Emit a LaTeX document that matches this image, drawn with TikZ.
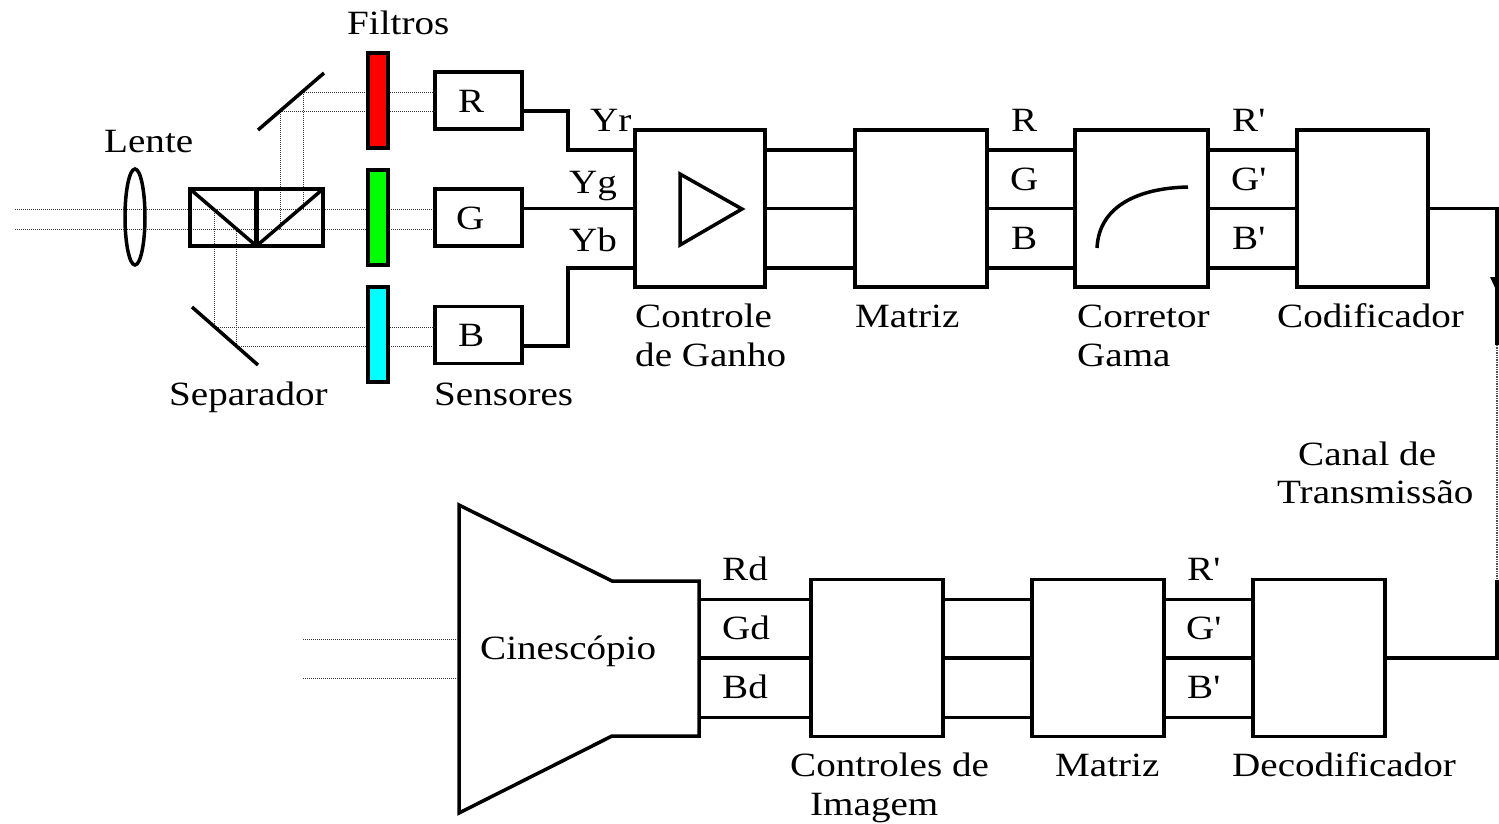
\documentclass[tikz,border=0pt]{standalone}
\usepackage{fontspec}
\usetikzlibrary{shapes.geometric}
\setmainfont[FakeStretch=1.15]{Liberation Serif}
\newfontfamily\primefont[FakeStretch=1.15]{Liberation Serif}
\newcommand{\pr}{{\primefont'}}
\definecolor{filtcyan}{RGB}{0,255,255}
\definecolor{filtgreen}{RGB}{0,255,0}
\definecolor{filtred}{RGB}{255,0,0}
\tikzset{
 blk/.style={draw=black,line width=3.5pt,fill=white,minimum width=#1,minimum height=157pt,inner sep=0pt,outer sep=0pt},
 sens/.style={draw=black,line width=3.5pt,fill=white,minimum width=87pt,minimum height=57pt,inner sep=0pt,outer sep=0pt},
 filt/.style={draw=black,line width=3.5pt,fill=#1,minimum width=20pt,minimum height=95pt,inner sep=0pt,outer sep=0pt},
 wire/.style={draw=black,line width=3.2pt},
 ray/.style={draw=black!80,line width=1pt,densely dotted},
 mir/.style={draw=black,line width=3.5pt},
 lab/.style={anchor=base west,inner sep=0pt,font=\fontsize{34}{38}\selectfont},
}
\begin{document}
\begin{tikzpicture}[x=1pt,y=-1pt]
\useasboundingbox (0,0) rectangle (1499,823);
% rays
\coordinate (rl1) at (15,209); \coordinate (rl2) at (15,229);
\coordinate (mt1) at (303,92); \coordinate (mt2) at (280,111);
\coordinate (mb1) at (214,327); \coordinate (mb2) at (236,346);
\node[sens] (sr) at (478.5,100.5) {};
\node[sens] (sg) at (478.5,217.5) {};
\node[sens] (sb) at (478.5,335) {};
\draw[ray] (rl1) -- (sg.west |- rl1);
\draw[ray] (rl2) -- (sg.west |- rl2);
\draw[ray] (303,209) -- (mt1) -- (sr.west |- mt1);
\draw[ray] (280,229) -- (mt2) -- (sr.west |- mt2);
\draw[ray] (214,209) -- (mb1) -- (sb.west |- mb1);
\draw[ray] (236,229) -- (mb2) -- (sb.west |- mb2);
% lens
\node[draw=black,line width=3.5pt,ellipse,minimum width=20pt,minimum height=96pt,inner sep=0pt] (lens) at (135,217) {};
% separator
\node[draw=black,line width=3.5pt,minimum width=133pt,minimum height=57pt,inner sep=0pt,outer sep=0pt] (sep) at (256.5,217.5) {};
\draw[line width=5pt] (sep.north) -- (sep.south);
\draw[mir] (sep.north west) -- (sep.south);
\draw[mir] (sep.south) -- (sep.north east);
\coordinate (m1a) at (258,130); \coordinate (m1b) at (324,73);
\coordinate (m2a) at (192,307); \coordinate (m2b) at (258,365);
\draw[mir] (m1a) -- (m1b);
\draw[mir] (m2a) -- (m2b);
% filters
\node[filt=filtred] (fr) at (378,100.5) {};
\node[filt=filtgreen] (fg) at (378,217.5) {};
\node[filt=filtcyan] (fb) at (378,334.5) {};
% top row
\node[blk=130pt] (gain) at (700,208.5) {};
\node[blk=132pt] (mat) at (921,208.5) {};
\node[blk=133pt] (gam) at (1141.5,208.5) {};
\node[blk=131pt] (cod) at (1362.5,208.5) {};
\draw[wire] (sr.east) ++(0,10.5) -- ++(46,0) |- ([yshift=58.5pt]gain.west);
\draw[wire] (sg.east |- gain.west) -- (gain.west);
\draw[wire] ([yshift=-11pt]sb.east) -- ++(46,0) |- ([yshift=-59.5pt]gain.west);
\foreach \a/\b in {gain/mat,mat/gam,gam/cod}{
 \draw[wire] ([yshift=58.5pt]\a.east) -- ([yshift=58.5pt]\b.west);
 \draw[wire] (\a.east) -- (\b.west);
 \draw[wire] ([yshift=-59.5pt]\a.east) -- ([yshift=-59.5pt]\b.west);
}
\draw[line width=3.5pt] (680,174) -- (680,245) -- (742,209) -- cycle;
\draw[line width=3.5pt] (1097,248) .. controls (1099,205) and (1140,188) .. (1188,187);
% bottom row
\node[blk=132pt] (dec) at (1319,658) {};
\node[blk=132pt] (mat2) at (1098,658) {};
\node[blk=132pt] (ctl) at (877,658) {};
\draw[line width=3.5pt,fill=white] (459,505) -- (612,581) -- (699,581) -- (699,736) -- (612,736) -- (459,813) -- cycle;
\coordinate (cine) at (699,658);
\coordinate (gun1) at (303,639); \coordinate (gun2) at (303,678);
\coordinate (cinb) at (459,639);
\draw[ray] (gun1) -- (cinb);
\draw[ray] (gun2) -- (cinb |- gun2);
\foreach \a/\b in {ctl/mat2,mat2/dec}{
 \draw[wire] ([yshift=58.5pt]\a.east) -- ([yshift=58.5pt]\b.west);
 \draw[wire] (\a.east) -- (\b.west);
 \draw[wire] ([yshift=-59.5pt]\a.east) -- ([yshift=-59.5pt]\b.west);
}
\draw[wire] ([yshift=58.5pt]cine) -- ([yshift=58.5pt]ctl.west);
\draw[wire] (cine) -- (ctl.west);
\draw[wire] ([yshift=-59.5pt]cine) -- ([yshift=-59.5pt]ctl.west);
% transmission channel
\coordinate (ch1) at (1497,208.5); \coordinate (ch2) at (1497,345);
\coordinate (ch3) at (1497,580); \coordinate (ch4) at (1497,658);
\draw[wire] (cod.east) -- (ch1) -- (ch2);
\fill (1490,277) -- (1498,277) -- (1498,294) -- cycle;
\draw[draw=black!70,line width=1.4pt,densely dotted] (ch2) -- (ch3);
\draw[wire] (ch3) -- (ch4) -- (dec.east);
% labels
\node[lab] (t1) at (347,34) {Filtros};
\node[lab] (t2) at (104,152) {Lente};
\node[lab] (t3) at (590,131) {Yr};
\node[lab] (t4) at (569,193) {Yg};
\node[lab] (t5) at (569,251) {Yb};
\node[lab] (t6) at (458,112) {R};
\node[lab] (t7) at (456,229) {G};
\node[lab] (t8) at (458,346) {B};
\node[lab] (t9) at (169,405) {Separador};
\node[lab] (t10) at (434,405) {Sensores};
\node[lab] (t11) at (635,327) {Controle};
\node[lab] (t12) at (635,366) {de Ganho};
\node[lab] (t13) at (855,327) {Matriz};
\node[lab] (t14) at (1011,131) {R};
\node[lab] (t15) at (1010,190) {G};
\node[lab] (t16) at (1011,249) {B};
\node[lab] (t17) at (1077,327) {Corretor};
\node[lab] (t18) at (1077,366) {Gama};
\node[lab] (t19) at (1232,131) {R\pr};
\node[lab] (t20) at (1231,190) {G\pr};
\node[lab] (t21) at (1232,249) {B\pr};
\node[lab] (t22) at (1277,327) {Codificador};
\node[lab] (t23) at (1298,465) {Canal de};
\node[lab] (t24) at (1277,503) {Transmissão};
\node[lab] (t25) at (722,580) {Rd};
\node[lab] (t26) at (722,639) {Gd};
\node[lab] (t27) at (722,698) {Bd};
\node[lab] (t28) at (480,659) {Cinescópio};
\node[lab] (t29) at (790,776) {Controles de};
\node[lab] (t30) at (810,815) {Imagem};
\node[lab] (t31) at (1055,776) {Matriz};
\node[lab] (t32) at (1187,580) {R\pr};
\node[lab] (t33) at (1186,639) {G\pr};
\node[lab] (t34) at (1187,698) {B\pr};
\node[lab] (t35) at (1232,776) {Decodificador};
\end{tikzpicture}
\end{document}
